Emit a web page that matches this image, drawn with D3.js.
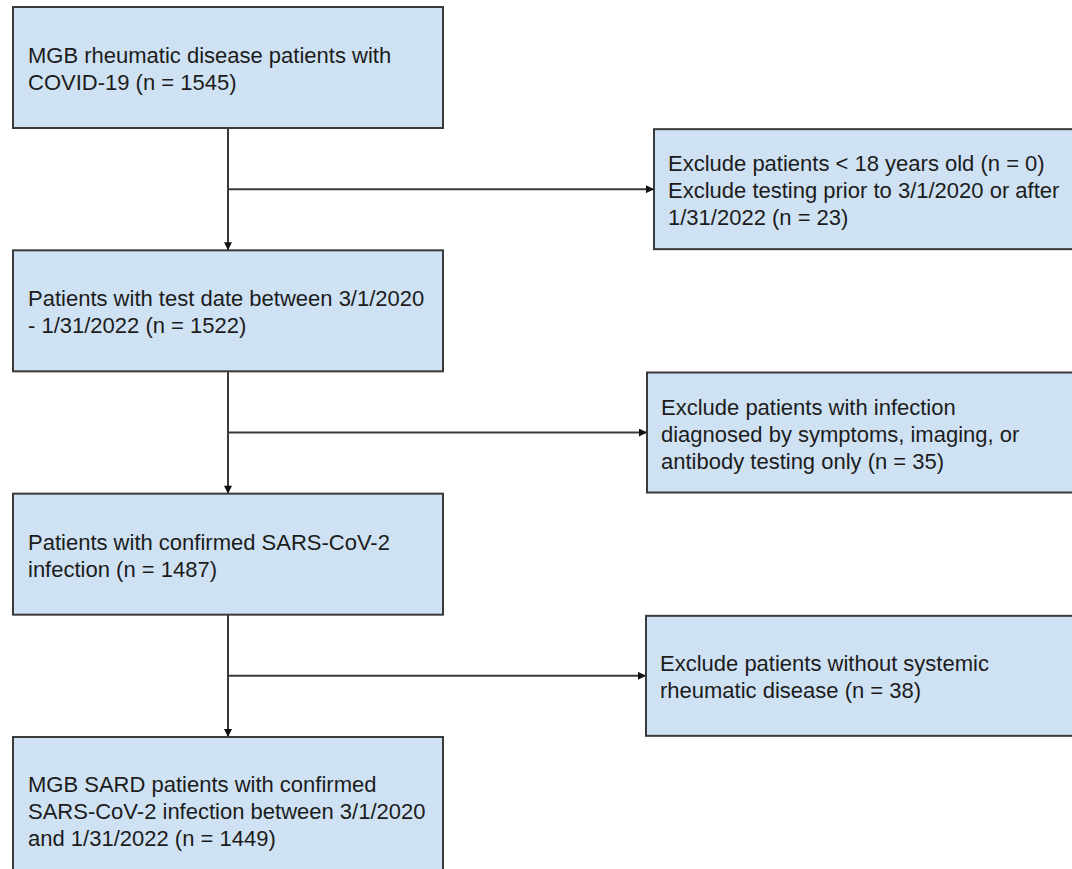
<!DOCTYPE html>
<html>
<head>
<meta charset="utf-8">
<script src="https://cdn.jsdelivr.net/npm/d3@7"></script>
<style>
    body { margin: 0; background: #fff; }
    .boxtext { font-family: "Liberation Sans", Arial, sans-serif; font-size: 22px; fill: #1c1c1c; }
</style>
</head>
<body>
<div id="flow"></div>
<script>
// main flow boxes (top to bottom)
var stepLabels = [
    ["MGB rheumatic disease patients with", "COVID-19 (n = 1545)"],
    ["Patients with test date between 3/1/2020", "- 1/31/2022 (n = 1522)"],
    ["Patients with confirmed SARS-CoV-2", "infection (n = 1487)"],
    ["MGB SARD patients with confirmed", "SARS-CoV-2 infection between 3/1/2020", "and 1/31/2022 (n = 1449)"]
];

// exclusion boxes, one between each pair of steps
var exclusionLabels = [
    ["Exclude patients < 18 years old (n = 0)", "Exclude testing prior to 3/1/2020 or after", "1/31/2022 (n = 23)"],
    ["Exclude patients with infection", "diagnosed by symptoms, imaging, or", "antibody testing only (n = 35)"],
    ["Exclude patients without systemic", "rheumatic disease (n = 38)"]
];

var w = 1072;
var h = 869;
var boxW = 430, boxH = 121, lastH = 145;
var exclW = 440, exclH = 120;
var exclX = [654, 647, 646];
var trunkX = 228;
var lineH = 27;
var fillCol = "#cfe2f3", strokeCol = "#3a3a3a";

var yRow = d3.scaleLinear().domain([0, stepLabels.length - 1]).range([7, 737]);
var xBox = d3.scaleLinear().domain([0, 1]).range([13, 13 + boxW]);

var svg = d3.select("#flow")
    .append("svg")
    .attr("width", w)
    .attr("height", h);

svg.append("defs").append("marker")
    .attr("id", "arrow")
    .attr("viewBox", "0 0 10 10")
    .attr("refX", 10)
    .attr("refY", 5)
    .attr("markerWidth", 9)
    .attr("markerHeight", 8)
    .attr("markerUnits", "userSpaceOnUse")
    .attr("orient", "auto")
    .append("path")
    .attr("d", "M0,0 L10,5 L0,10 z")
    .attr("fill", "#111");

function stepH(i) {
    return i == stepLabels.length - 1 ? lastH : boxH;
}
function arrowY(i) {
    return (yRow(i) + boxH + yRow(i + 1)) / 2;
}

// connectors
var links = svg.append("g");
links.selectAll("line.down")
    .data(exclusionLabels)
    .enter()
    .append("line")
    .attr("class", "down")
    .attr("x1", trunkX)
    .attr("x2", trunkX)
    .attr("y1", function (d, i) { return yRow(i) + boxH; })
    .attr("y2", function (d, i) { return yRow(i + 1); })
    .attr("stroke", strokeCol)
    .attr("stroke-width", 2)
    .attr("marker-end", "url(#arrow)");

links.selectAll("line.side")
    .data(exclusionLabels)
    .enter()
    .append("line")
    .attr("class", "side")
    .attr("x1", trunkX)
    .attr("x2", function (d, i) { return exclX[i]; })
    .attr("y1", function (d, i) { return arrowY(i); })
    .attr("y2", function (d, i) { return arrowY(i); })
    .attr("stroke", strokeCol)
    .attr("stroke-width", 2)
    .attr("marker-end", "url(#arrow)");

// step boxes
var steps = svg.selectAll("g.step")
    .data(stepLabels)
    .enter()
    .append("g")
    .attr("class", "step");

steps.append("rect")
    .attr("x", xBox(0))
    .attr("y", function (d, i) { return yRow(i); })
    .attr("width", xBox(1) - xBox(0))
    .attr("height", function (d, i) { return stepH(i); })
    .attr("fill", fillCol)
    .attr("stroke", strokeCol)
    .attr("stroke-width", 2);

steps.append("text")
    .attr("class", "boxtext")
    .each(function (d, i) {
        var y0 = yRow(i) + stepH(i) / 2 - (d.length - 1) * lineH / 2 + 9;
        d3.select(this).selectAll("tspan")
            .data(d)
            .enter()
            .append("tspan")
            .attr("x", xBox(0) + 15)
            .attr("y", function (t, j) { return y0 + j * lineH; })
            .text(function (t) { return t; });
    });

// exclusion boxes
var excl = svg.selectAll("g.excl")
    .data(exclusionLabels)
    .enter()
    .append("g")
    .attr("class", "excl");

excl.append("rect")
    .attr("x", function (d, i) { return exclX[i]; })
    .attr("y", function (d, i) { return arrowY(i) - exclH / 2; })
    .attr("width", exclW)
    .attr("height", exclH)
    .attr("fill", fillCol)
    .attr("stroke", strokeCol)
    .attr("stroke-width", 2);

excl.append("text")
    .attr("class", "boxtext")
    .each(function (d, i) {
        var y0 = arrowY(i) - (d.length - 1) * lineH / 2 + 9;
        var x0 = exclX[i] + 14;
        d3.select(this).selectAll("tspan")
            .data(d)
            .enter()
            .append("tspan")
            .attr("x", x0)
            .attr("y", function (t, j) { return y0 + j * lineH; })
            .text(function (t) { return t; });
    });
</script>
</body>
</html>
